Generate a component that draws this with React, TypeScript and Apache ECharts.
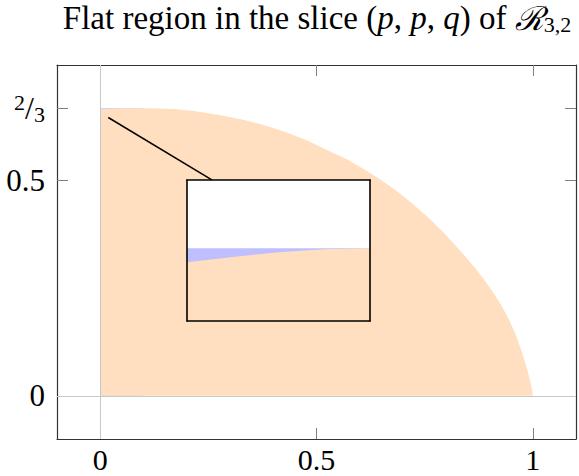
import React, { useEffect, useRef } from "react";
import * as echarts from "echarts";

// ---------- data ----------
const xTicks = [0, 0.5, 1];
const yTicks = [0, 0.5, 2 / 3];
const flatLevel = 2 / 3;

// upper boundary of the region in the slice (p, p, q)
const boundaryP = [0, 0.04, 0.08, 0.12, 0.17, 0.217, 0.275, 0.333, 0.38, 0.43, 0.48, 0.53, 0.57, 0.607, 0.645, 0.684, 0.72, 0.761, 0.8, 0.838, 0.87, 0.9, 0.925, 0.946, 0.962, 0.976, 0.987, 0.9955, 0.999, 1.0];
const boundaryQ = [0.664, 0.6658, 0.6666, 0.6664, 0.6645, 0.66, 0.651, 0.639, 0.627, 0.611, 0.591, 0.567, 0.548, 0.527, 0.503, 0.476, 0.447, 0.411, 0.372, 0.33, 0.292, 0.252, 0.214, 0.175, 0.138, 0.098, 0.062, 0.028, 0.012, 0];

// flat part (q = 2/3)
const flatP = [0, 0.1];

// magnified view
const insetP = [0, 0.02, 0.04, 0.06, 0.08];
const insetLowerQ = [0.6643, 0.6652, 0.666, 0.6665, 0.6667];
const insetRangeP = [0, 0.08];
const insetRangeQ = [0.6543, 0.6783];

// connector from spied point to inset
const connectorP = [0.0185, 0.259];
const connectorQ = [0.645, 0.5];

const ORANGE = "#FFDFBF";
const BLUE = "#BFBFFF";
const FONT = "'Liberation Serif', 'DejaVu Serif', serif";

export default function App() {
  const ref = useRef<HTMLDivElement>(null);
  useEffect(() => {
    if (!ref.current) return;
    const chart = echarts.init(ref.current, null, { renderer: "svg" });
    const frameLine = { show: true, onZero: false, lineStyle: { color: "#333", width: 1.2 } };
    const tickStyle = (vals: number[]) => ({
      show: true,
      inside: true,
      length: 11,
      customValues: vals,
      lineStyle: { color: "#808080", width: 1 },
    });
    const noLabel = { show: false };
    const insetFrame = { show: true, onZero: false, lineStyle: { color: "#000", width: 1.6 } };
    const tBase = { fontFamily: FONT, fontSize: 33, fontWeight: "normal", color: "#000", lineHeight: 34 };
    const option: any = {
      animation: false,
      backgroundColor: "#fff",
      title: {
        left: 317,
        top: 1,
        padding: 0,
        textAlign: "center",
        text: "{t|Flat region in the slice (}{i|p}{t|, }{i|p}{t|, }{i|q}{t|) of }{c|ℛ}{s|3,2}",
        textStyle: {
          fontWeight: "normal",
          rich: {
            t: tBase,
            i: { ...tBase, fontStyle: "italic" },
            c: { ...tBase, fontFamily: "'DejaVu Serif', serif", fontStyle: "italic" },
            s: { ...tBase, fontSize: 22, lineHeight: 20, verticalAlign: "bottom" },
          },
        },
      },
      grid: [
        { left: 57, top: 65, width: 519, height: 374, show: false },
        { left: 187, top: 180, width: 183, height: 141, show: true, backgroundColor: "#fff", borderWidth: 0, z: 10 },
      ],
      xAxis: [
        {
          gridIndex: 0, type: "value", min: -0.1, max: 1.1, position: "bottom",
          axisLine: frameLine, axisTick: tickStyle(xTicks), splitLine: { show: false },
          axisLabel: {
            customValues: xTicks, fontFamily: FONT, fontSize: 30, lineHeight: 30, color: "#000", margin: 5,
            formatter: (v: number) => String(v),
          },
        },
        {
          gridIndex: 0, type: "value", min: -0.1, max: 1.1, position: "top",
          axisLine: frameLine, axisTick: tickStyle(xTicks), splitLine: { show: false }, axisLabel: noLabel,
        },
        {
          gridIndex: 1, type: "value", min: insetRangeP[0], max: insetRangeP[1], position: "bottom", z: 13,
          axisLine: insetFrame, axisTick: { show: false }, splitLine: { show: false }, axisLabel: noLabel,
        },
        {
          gridIndex: 1, type: "value", min: insetRangeP[0], max: insetRangeP[1], position: "top", z: 13,
          axisLine: insetFrame, axisTick: { show: false }, splitLine: { show: false }, axisLabel: noLabel,
        },
      ],
      yAxis: [
        {
          gridIndex: 0, type: "value", min: -0.1, max: 2 / 3 + 0.1, position: "left",
          axisLine: frameLine, axisTick: tickStyle(yTicks), splitLine: { show: false },
          axisLabel: {
            customValues: yTicks, fontFamily: FONT, fontSize: 31, color: "#000", margin: 12,
            formatter: (v: number) => (Math.abs(v - 2 / 3) < 1e-6 ? "{n|2}{sl|/}{d|3}" : String(v)),
            rich: {
              n: { fontFamily: FONT, fontSize: 22, color: "#000", verticalAlign: "top", lineHeight: 22 },
              sl: { fontFamily: FONT, fontSize: 32, color: "#000", lineHeight: 34 },
              d: { fontFamily: FONT, fontSize: 22, color: "#000", verticalAlign: "bottom", lineHeight: 22 },
            },
          },
        },
        {
          gridIndex: 0, type: "value", min: -0.1, max: 2 / 3 + 0.1, position: "right",
          axisLine: frameLine, axisTick: tickStyle(yTicks), splitLine: { show: false }, axisLabel: noLabel,
        },
        {
          gridIndex: 1, type: "value", min: insetRangeQ[0], max: insetRangeQ[1], position: "left", z: 13,
          axisLine: insetFrame, axisTick: { show: false }, splitLine: { show: false }, axisLabel: noLabel,
        },
        {
          gridIndex: 1, type: "value", min: insetRangeQ[0], max: insetRangeQ[1], position: "right", z: 13,
          axisLine: insetFrame, axisTick: { show: false }, splitLine: { show: false }, axisLabel: noLabel,
        },
      ],
      series: [
        {
          type: "line", xAxisIndex: 0, yAxisIndex: 0, z: 2, symbol: "none", silent: true,
          data: flatP.map((p) => [p, flatLevel]),
          lineStyle: { width: 0 },
          areaStyle: { color: BLUE, opacity: 1 },
        },
        {
          type: "line", xAxisIndex: 0, yAxisIndex: 0, z: 3, symbol: "none", silent: true,
          data: boundaryP.map((p, i) => [p, boundaryQ[i]]),
          lineStyle: { width: 0 },
          areaStyle: { color: ORANGE, opacity: 1 },
          markLine: {
            silent: true, symbol: "none", label: { show: false },
            lineStyle: { color: "#c8c8c8", width: 1, type: "solid" },
            data: [{ xAxis: 0 }, { yAxis: 0 }],
          },
        },
        {
          type: "line", xAxisIndex: 0, yAxisIndex: 0, z: 4, symbol: "none", silent: true,
          data: connectorP.map((p, i) => [p, connectorQ[i]]),
          lineStyle: { color: "#000", width: 1.5 },
        },
        {
          type: "line", xAxisIndex: 2, yAxisIndex: 2, z: 11, symbol: "none", silent: true,
          data: insetP.map((p) => [p, flatLevel]),
          lineStyle: { width: 0 },
          areaStyle: { color: BLUE, opacity: 1, origin: "start" },
        },
        {
          type: "line", xAxisIndex: 2, yAxisIndex: 2, z: 12, symbol: "none", silent: true,
          data: insetP.map((p, i) => [p, insetLowerQ[i]]),
          lineStyle: { width: 0 },
          areaStyle: { color: ORANGE, opacity: 1, origin: "start" },
        },
      ],
    };
    chart.setOption(option);
    return () => chart.dispose();
  }, []);
  return <div ref={ref} style={{ width: 579, height: 476, position: "fixed", left: 0, top: 0 }} />;
}
